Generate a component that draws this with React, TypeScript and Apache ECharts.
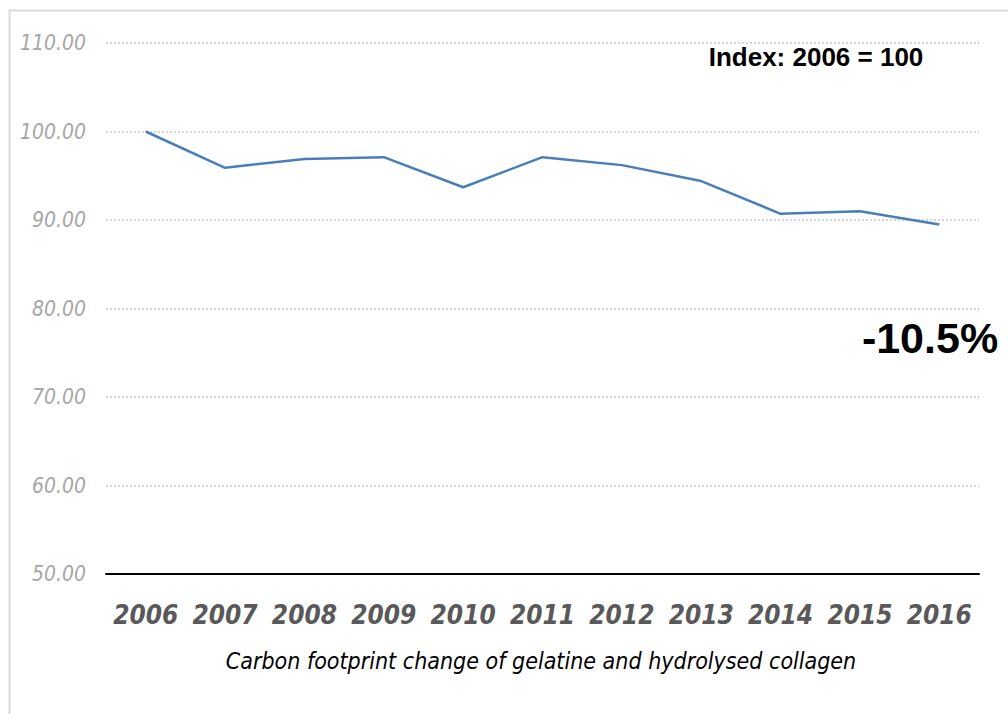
import React, { useEffect, useRef } from "react";
import * as echarts from "echarts";

const years = ["2006", "2007", "2008", "2009", "2010", "2011", "2012", "2013", "2014", "2015", "2016"];
const indexValues = [100, 95.9, 96.9, 97.1, 93.7, 97.1, 96.2, 94.4, 90.7, 91.0, 89.5];
const yTicks = { min: 50, max: 110, interval: 10 };
const titleText = "Carbon footprint change of gelatine and hydrolysed collagen";
const indexNote = "Index: 2006 = 100";
const changeNote = "-10.5%";

const narrow = "'Liberation Sans Narrow', 'DejaVu Sans Condensed', 'Open Sans', sans-serif";

export default function App() {
  const ref = useRef<HTMLDivElement>(null);
  useEffect(() => {
    if (!ref.current) return;
    const chart = echarts.init(ref.current, null, { renderer: "svg" });
    chart.setOption({
      animation: false,
      backgroundColor: "#ffffff",
      grid: { left: 106, right: 29, top: 43, bottom: 140, containLabel: false },
      xAxis: {
        type: "category",
        data: years,
        boundaryGap: true,
        axisLine: { show: true, lineStyle: { color: "#000000", width: 2 } },
        axisTick: { show: false },
        axisLabel: {
          interval: 0,
          hideOverlap: false,
          margin: 28,
          fontFamily: narrow,
          fontStyle: "italic",
          fontWeight: "bold",
          fontSize: 26,
          color: "#595959",
        },
        splitLine: { show: false },
      },
      yAxis: {
        type: "value",
        min: yTicks.min,
        max: yTicks.max,
        interval: yTicks.interval,
        axisLine: { show: false },
        axisTick: { show: false },
        axisLabel: {
          margin: 20,
          fontFamily: narrow,
          fontStyle: "italic",
          fontSize: 21,
          color: "#a6a6a6",
          formatter: (v: number) => v.toFixed(2),
        },
        splitLine: {
          show: true,
          lineStyle: { color: "#c8c8c8", width: 1.5, type: [2, 2] },
        },
      },
      series: [
        {
          type: "line",
          data: indexValues,
          symbol: "none",
          lineStyle: { color: "#4a7ebb", width: 2.5 },
          z: 3,
        },
      ],
      graphic: [
        {
          type: "rect",
          shape: { x: 9.5, y: 10.5, width: 1010, height: 720 },
          style: { fill: "none", stroke: "#d9d9d9", lineWidth: 2 },
          silent: true,
        },
        {
          type: "text",
          x: 816,
          y: 57,
          style: {
            text: indexNote,
            font: "bold 26px 'Liberation Sans', Arial, sans-serif",
            fill: "#000000",
            align: "center",
            verticalAlign: "middle",
          },
        },
        {
          type: "text",
          x: 930,
          y: 338,
          style: {
            text: changeNote,
            font: "bold 43px 'Liberation Sans', Arial, sans-serif",
            fill: "#000000",
            align: "center",
            verticalAlign: "middle",
          },
        },
        {
          type: "text",
          x: 541,
          y: 661,
          style: {
            text: titleText,
            font: "italic 23px " + narrow,
            fill: "#000000",
            align: "center",
            verticalAlign: "middle",
          },
        },
      ],
    });
    return () => chart.dispose();
  }, []);
  return (
    <div
      ref={ref}
      style={{ position: "fixed", left: 0, top: 0, width: 1008, height: 714 }}
    />
  );
}
